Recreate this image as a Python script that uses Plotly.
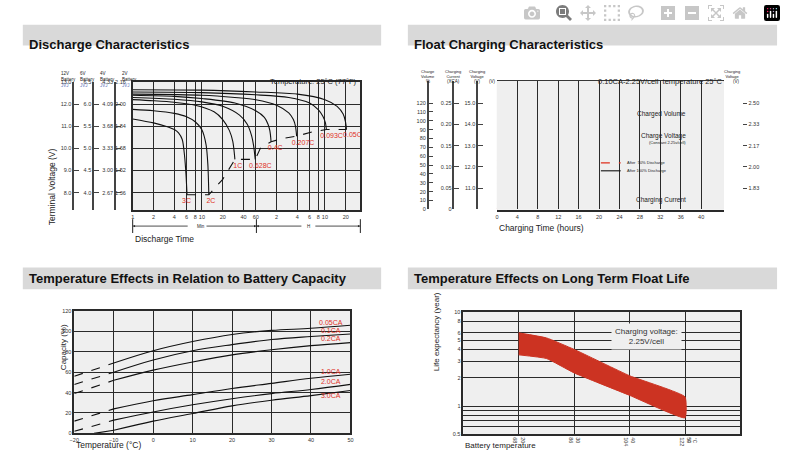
import plotly.graph_objects as go

W, H = 786, 465
FONT = "Liberation Sans, Arial"
RED = "#e0301e"
GRID = "#2a2a2a"
BG = "#efefef"

def X(p):  # pixel -> paper x
    return p / W

def Y(p):  # pixel -> paper y
    return 1 - p / H

# ---------------- discharge characteristics (12V basis, minutes) ----------------
dis_names = ["3C", "2C", "1C", "0.628C", "0.4C", "0.207C", "0.093C", "0.05C"]
dis_t = [
    [1, 2, 3, 4, 4.6, 5.2, 5.6, 5.9, 6.1],
    [1, 2, 4, 6, 8, 10, 11.5, 12.2, 12.6],
    [1, 2, 4, 8, 15, 20, 25, 28, 30],
    [1, 4, 10, 20, 35, 45, 52, 56, 59],
    [1, 4, 10, 30, 60, 80, 90, 96, 100],
    [1, 10, 30, 60, 120, 180, 210, 225, 234],
    [1, 10, 60, 180, 360, 480, 560, 610, 630],
    [1, 10, 60, 240, 600, 900, 1100, 1190, 1230],
]
dis_v = [
    [11.33, 11.15, 11.0, 10.85, 10.7, 10.4, 9.7, 8.8, 7.9],
    [11.76, 11.7, 11.58, 11.43, 11.2, 10.84, 10.16, 9.27, 7.9],
    [12.2, 12.15, 12.08, 11.95, 11.65, 11.3, 10.8, 10.3, 9.5],
    [12.3, 12.22, 12.1, 11.9, 11.5, 11.1, 10.6, 10.1, 9.5],
    [12.4, 12.35, 12.25, 12.05, 11.7, 11.4, 11.1, 10.8, 10.3],
    [12.45, 12.4, 12.3, 12.2, 11.95, 11.6, 11.3, 11.0, 10.55],
    [12.55, 12.52, 12.42, 12.3, 12.05, 11.75, 11.45, 11.15, 10.85],
    [12.65, 12.63, 12.55, 12.45, 12.2, 11.9, 11.55, 11.2, 10.85],
]
end_t = [6.1, 12.6, 20, 30, 59, 70, 100, 150, 234, 400, 630, 1230]
end_v = [7.9, 7.9, 8.6, 9.5, 9.5, 10.0, 10.3, 10.45, 10.55, 10.75, 10.85, 10.85]
dis_lab_t = [6, 13.5, 33, 70, 115, 290, 750, 1500]
dis_lab_v = [7.6, 7.6, 9.2, 9.2, 10.0, 10.25, 10.55, 10.6]
v12_ticks = [8, 9, 10, 11, 12, 13]
v6_text = ["4.0", "4.5", "5.0", "5.5", "6.0", "6.5"]
v4_text = ["2.67", "3.00", "3.33", "3.68", "4.09", "4.33"]
v2_text = ["1.36", "1.52", "1.68", "1.84", "2.00", "2.16"]
dis_xticks = [1, 2, 4, 6, 8, 10, 20, 40, 60, 120, 240, 360, 480, 600, 1200]
dis_xtext = ["1", "2", "4", "6", "8", "10", "20", "40", "60", "2", "4", "6", "8", "10", "20"]

# ---------------- float charging ----------------
fc_vol_t = [0, 2, 4, 6, 8, 12, 20, 36]
fc_vol_50 = [0, 30, 60, 78, 89, 99, 106, 110]
fc_vol_100_t = [0, 2, 4, 6, 8, 12, 16, 24, 36]
fc_vol_100 = [0, 18, 42, 68, 85, 95, 100, 105, 110]
fc_volt_50_t = [0, 1, 2, 3, 3.6, 23]
fc_volt_50 = [12.28, 12.4, 12.6, 13.0, 13.5, 13.5]
fc_volt_100_t = [0, 2, 4, 5, 6, 7.3, 36]
fc_volt_100 = [11.2, 11.4, 11.75, 12.2, 12.9, 13.5, 13.5]
fc_cur_50_t = [0, 3.5, 4, 5, 6, 8, 10, 12, 16, 20, 36]
fc_cur_50 = [0.101, 0.101, 0.088, 0.062, 0.048, 0.036, 0.028, 0.022, 0.014, 0.009, 0.008]
fc_cur_100_t = [0, 7.5, 7.6, 8, 9, 10, 12, 16, 20, 36]
fc_cur_100 = [0.097, 0.097, 0.08, 0.062, 0.046, 0.036, 0.025, 0.014, 0.009, 0.008]

# ---------------- temperature vs capacity ----------------
cap_temp = [-20, -10, 0, 10, 20, 30, 40, 50]
cap_names = ["0.05CA", "0.1CA", "0.2CA", "1.0CA", "2.0CA", "3.0CA"]
cap_vals = [
    [56, 69, 81, 90, 97, 101, 103, 106],
    [48, 60, 72, 81, 87, 92, 95, 97.5],
    [39, 52, 62, 70, 77, 82, 86, 89],
    [12, 24, 32, 38, 44, 49, 54, 58],
    [2, 13, 21, 28, 34, 39, 43, 48],
    [None, 3, 12, 19.5, 27, 32.5, 37, 42],
]
cap_lab_y = [108, 100, 92, 60, 50, 36]

# ---------------- float life ----------------
life_temp = [20, 25, 30, 40, 50]
life_hi = [6.0, 5.3, 4.0, 2.1, 1.25]
life_lo = [3.5, 3.2, 2.25, 1.3, 0.75]

fig = go.Figure()

# panel 1
for t, v in zip(dis_t, dis_v):
    fig.add_trace(go.Scatter(x=t, y=v, mode="lines", line=dict(color="#111", width=1.1, shape="spline", smoothing=0.8),
                             xaxis="x", yaxis="y", showlegend=False))
fig.add_trace(go.Scatter(x=end_t, y=end_v, mode="lines", line=dict(color="#111", width=1.1, dash="dash"),
                         xaxis="x", yaxis="y", showlegend=False))
fig.add_trace(go.Scatter(x=dis_lab_t, y=dis_lab_v, mode="text", text=dis_names,
                         textfont=dict(color=RED, size=7, family=FONT), xaxis="x", yaxis="y", showlegend=False))
for ax in ["y5", "y6", "y7"]:
    fig.add_trace(go.Scatter(x=[1], y=[None], xaxis="x", yaxis=ax, showlegend=False))

# panel 2
fig.add_trace(go.Scatter(x=fc_vol_t, y=fc_vol_50, mode="lines", line=dict(color=RED, width=1.3, dash="dash", shape="spline"),
                         xaxis="x2", yaxis="y8", showlegend=False))
fig.add_trace(go.Scatter(x=fc_vol_100_t, y=fc_vol_100, mode="lines", line=dict(color="#111", width=1.1, shape="spline"),
                         xaxis="x2", yaxis="y8", showlegend=False))
fig.add_trace(go.Scatter(x=fc_volt_50_t, y=fc_volt_50, mode="lines", line=dict(color=RED, width=1.3, dash="dash", shape="spline", smoothing=0.5),
                         xaxis="x2", yaxis="y10", showlegend=False))
fig.add_trace(go.Scatter(x=fc_volt_100_t, y=fc_volt_100, mode="lines", line=dict(color="#111", width=1.1, shape="spline", smoothing=0.5),
                         xaxis="x2", yaxis="y10", showlegend=False))
fig.add_trace(go.Scatter(x=fc_cur_50_t, y=fc_cur_50, mode="lines", line=dict(color=RED, width=1.3, dash="dash", shape="spline", smoothing=0.6),
                         xaxis="x2", yaxis="y9", showlegend=False))
fig.add_trace(go.Scatter(x=fc_cur_100_t, y=fc_cur_100, mode="lines", line=dict(color="#111", width=1.1, shape="spline", smoothing=0.6),
                         xaxis="x2", yaxis="y9", showlegend=False))
fig.add_trace(go.Scatter(x=[0], y=[None], xaxis="x2", yaxis="y11", showlegend=False))

# panel 3
for name, vals, ly in zip(cap_names, cap_vals, cap_lab_y):
    fig.add_trace(go.Scatter(x=cap_temp[:2], y=vals[:2], mode="lines", line=dict(color="#111", width=1.1, dash="dash"),
                             xaxis="x3", yaxis="y3", showlegend=False))
    fig.add_trace(go.Scatter(x=cap_temp[1:], y=vals[1:], mode="lines", line=dict(color="#111", width=1.1, shape="spline"),
                             xaxis="x3", yaxis="y3", showlegend=False))
    fig.add_trace(go.Scatter(x=[45], y=[ly], mode="text", text=[name], textfont=dict(color=RED, size=7, family=FONT),
                             xaxis="x3", yaxis="y3", showlegend=False))
fig.add_trace(go.Scatter(x=[-15, -10], y=[0, 3], mode="lines", line=dict(color="#111", width=1.1),
                         xaxis="x3", yaxis="y3", showlegend=False))

# panel 4
fig.add_trace(go.Scatter(x=life_temp + life_temp[::-1], y=life_hi + life_lo[::-1], mode="lines", fill="toself",
                         fillcolor="#cc3322", line=dict(color="#cc3322", width=1, shape="spline", smoothing=0.4),
                         xaxis="x4", yaxis="y4", showlegend=False))

tf = dict(size=5.5, family=FONT, color="#333")
grid = dict(showgrid=True, gridcolor=GRID, gridwidth=1.4, showline=True, linecolor=GRID, linewidth=1.5,
            mirror=True, zeroline=False, tickfont=tf, ticks="")

free = dict(anchor="free", showgrid=False, showline=True, linecolor="#444", linewidth=1.5, ticks="inside",
            ticklen=5, tickcolor="#444", tickfont=tf, zeroline=False, side="left")

d1 = [Y(210), Y(80)]
d2 = [Y(209), Y(79)]

fig.update_layout(
    width=W, height=H, margin=dict(l=0, r=0, t=0, b=0),
    paper_bgcolor="white", plot_bgcolor=BG, font=dict(family=FONT),
    xaxis=dict(domain=[X(129), X(359)], anchor="y", type="log", range=[0, 3.29], tickvals=dis_xticks,
               ticktext=dis_xtext, **grid),
    yaxis=dict(domain=d1, anchor="x", range=[7.2, 13.0], tickvals=v12_ticks, ticktext=v2_text,
               ticklabelstandoff=4, **grid),
    yaxis5=dict(overlaying="y", domain=d1, position=X(69), range=[7.2, 13.0], tickvals=v12_ticks,
                ticktext=[f"{v:.1f}" for v in v12_ticks], **free),
    yaxis6=dict(overlaying="y", domain=d1, position=X(89), range=[7.2, 13.0], tickvals=v12_ticks, ticktext=v6_text, **free),
    yaxis7=dict(overlaying="y", domain=d1, position=X(111), range=[7.2, 13.0], tickvals=v12_ticks, ticktext=v4_text, **free),

    xaxis2=dict(domain=[X(497), X(726)], anchor="y2", range=[0, 44.4], tickvals=list(range(0, 44, 4)), **grid),
    yaxis2=dict(domain=d2, anchor="x2", range=[5.0, 8.02], tickvals=[5.5, 6.0, 6.5, 7.0, 7.5],
                ticktext=["5.5", "6.0", "6.5", "7.0", "7.5"], **grid),
    yaxis8=dict(overlaying="y2", domain=d2, position=X(427), range=[0, 145], tickvals=list(range(0, 130, 10)), **free),
    yaxis9=dict(overlaying="y2", domain=d2, position=X(453), range=[0, 0.302], tickvals=[0, 0.05, 0.10, 0.15, 0.20, 0.25],
                ticktext=["0", "0.05", "0.10", "0.15", "0.20", "0.25"], **free),
    yaxis10=dict(overlaying="y2", domain=d2, position=X(477), range=[10.0, 16.04], tickvals=[11, 12, 13, 14, 15],
                 ticktext=["11.0", "12.0", "13.0", "14.0", "15.0"], **free),
    yaxis11=dict(overlaying="y2", domain=d2, anchor="free", position=X(745), side="right", range=[5.0 / 3, 8.02 / 3],
                 tickvals=[5.5 / 3, 2.0, 6.5 / 3, 7.0 / 3, 2.5], ticktext=["1.83", "2.00", "2.17", "2.33", "2.50"],
                 showline=False, showgrid=False, ticks="outside", ticklen=4, tickfont=tf, zeroline=False),

    xaxis3=dict(domain=[X(70), X(349)], anchor="y3", range=[-20, 50], tickvals=list(range(-20, 51, 10)), **grid),
    yaxis3=dict(domain=[Y(436), Y(312)], anchor="x3", range=[0, 120], tickvals=list(range(0, 121, 20)), **grid),

    xaxis4=dict(domain=[X(463), X(743)], anchor="y4", range=[10, 60], tickvals=[20, 30, 40, 50], tickangle=90,
                ticktext=["20<br>68", "30<br>86", "40<br>104", "50<br>122"], **grid),
    yaxis4=dict(domain=[Y(437), Y(313)], anchor="x4", type="log", range=[-0.301, 1],
                tickvals=[0.5, 0.6, 0.7, 0.8, 0.9, 1, 2, 3, 4, 5, 6, 8, 10],
                ticktext=["0.5", "", "", "", "", "1", "2", "3", "4", "5", "6", "8", "10"], **grid),
)

shapes = []
ann = []

def txt(x, y, s, size=6, **kw):
    d = dict(x=X(x), y=Y(y), xref="paper", yref="paper", text=s, showarrow=False,
             font=dict(size=size, family=FONT, color=kw.pop("color", "#222")))
    d.update(kw)
    ann.append(d)

# header bars
for (x0, x1, y0, y1, title) in [(18, 380, 22, 43, "Discharge Characteristics"),
                                (407, 780, 22, 43, "Float Charging Characteristics"),
                                (18, 380, 268, 290, "Temperature Effects in Relation to Battery Capacity"),
                                (407, 780, 268, 290, "Temperature Effects on Long Term Float Life")]:
    shapes.append(dict(type="rect", xref="paper", yref="paper", x0=X(x0), x1=X(x1), y0=Y(y1), y1=Y(y0),
                       fillcolor="#d9d9d9", line=dict(width=0), layer="below"))
    txt(x0 + 4, (y0 + y1) / 2, f"<b>{title}</b>", size=13, xanchor="left", color="#111")

# panel 1 labels
for px_, lab in [(55, "12V"), (74, "6V"), (94, "4V"), (116, "2V")]:
    txt(px_, 67, f"{lab}<br>Battery<br><span style='color:#5b6fb5'>JVJ</span>", size=4.5, xanchor="left", align="left")
txt(358, 73, "Temperature: 25°C (77°F)", size=7.5, xanchor="right")
txt(40, 145, "Terminal Voltage (V)", size=8.5, textangle=-90)
txt(129, 239, "Discharge Time", size=8.5, xanchor="left")
# Min / H bracket
for (xa, xb, lab) in [(129, 254, "Min"), (254, 359, "H")]:
    mid = (xa + xb) / 2
    ann.append(dict(x=X(xa), y=Y(226), xref="paper", yref="paper", ax=mid - xa - 6, ay=0, text="",
                    showarrow=True, arrowhead=2, arrowsize=0.6, arrowwidth=0.8, arrowcolor="#222"))
    ann.append(dict(x=X(xb), y=Y(226), xref="paper", yref="paper", ax=-(xb - mid - 6), ay=0, text="",
                    showarrow=True, arrowhead=2, arrowsize=0.6, arrowwidth=0.8, arrowcolor="#222"))
    txt(mid, 226, lab, size=4.5, bgcolor="white")
for xv in [129, 254, 359]:
    shapes.append(dict(type="line", xref="paper", yref="paper", x0=X(xv), x1=X(xv), y0=Y(219), y1=Y(233),
                       line=dict(color="#222", width=1)))

# panel 2 labels
txt(427, 65, "Charge<br>Volume", size=4)
txt(427, 75, "%", size=4.5)
txt(453, 65, "Charging<br>Current", size=4)
txt(453, 75, "(XCA)", size=4.5)
txt(477, 65, "Charging<br>Voltage", size=4)
txt(477, 75, "(V)", size=4.5)
txt(493, 75, "(V)", size=4.5)
txt(745, 65, "Charging<br>Voltage", size=4)
txt(745, 75, "(V)", size=4.5)
txt(726, 73, "0.10CA-2.25V/cell  temperature 25°C", size=7.5, xanchor="right")
txt(497, 228, "Charging Time (hours)", size=8.5, xanchor="left")
txt(690, 106, "Charged Volume", size=6.5, xanchor="right")
txt(690, 129, "Charge Voltage", size=6.5, xanchor="right")
txt(690, 137, "(Constant 2.25v/cell)", size=4, xanchor="right")
txt(690, 200, "Charging Current", size=6.5, xanchor="right")
shapes.append(dict(type="line", xref="paper", yref="paper", x0=X(602), x1=X(622), y0=Y(162), y1=Y(162),
                   line=dict(color=RED, width=1.3, dash="dash")))
shapes.append(dict(type="line", xref="paper", yref="paper", x0=X(602), x1=X(622), y0=Y(170), y1=Y(170),
                   line=dict(color="#111", width=1.1)))
txt(626, 162, "After  50% Discharge", size=4, xanchor="left")
txt(626, 170, "After 100% Discharge", size=4, xanchor="left")

# panel 3 labels
txt(52, 374, "Capacity (%)", size=8, textangle=-90)
txt(70, 455, "Temperature (°C)", size=8.5, xanchor="left")

# panel 4 labels
txt(436, 375, "Life expectancy (year)", size=8, textangle=-90)
txt(463, 455, "Battery temperature", size=8, xanchor="left")
txt(701, 449, "°C<br>°F", size=4.5, textangle=90)
txt(684, 352, "Charging voltage:<br>2.25V/cell", size=8, bgcolor=BG, borderpad=3, color="#333")

fig.update_layout(shapes=shapes, annotations=ann)
fig.write_html("out.html", post_script="document.body.style.margin='0';")
